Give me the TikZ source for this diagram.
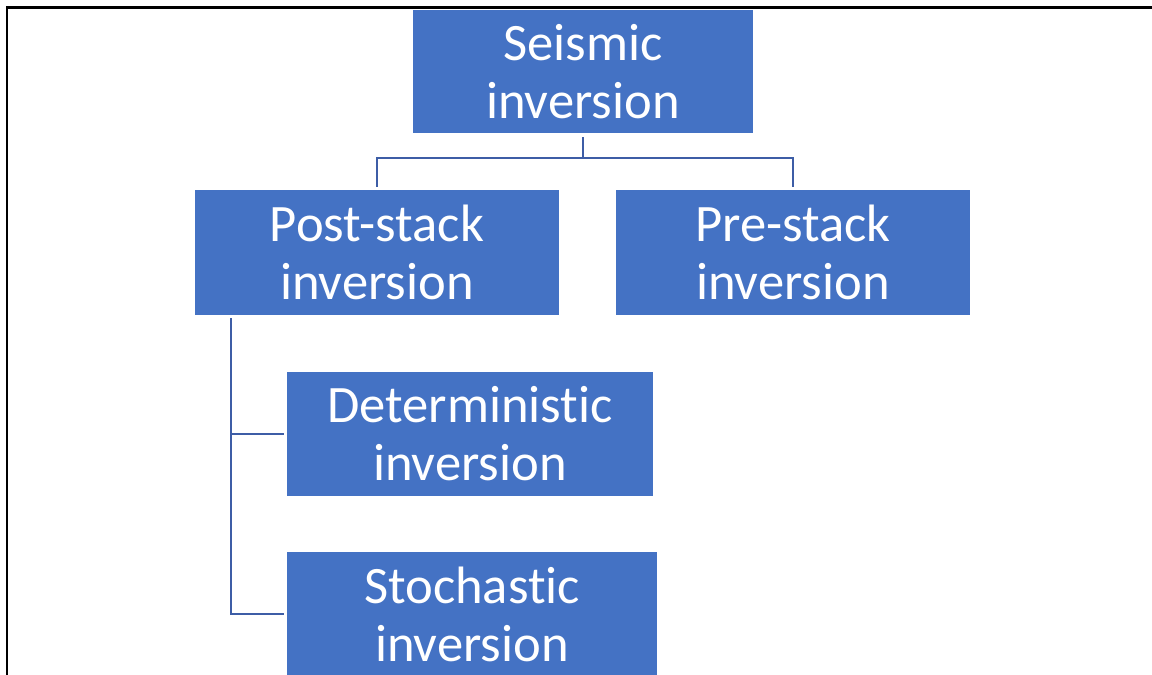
\documentclass[tikz,border=0pt]{standalone}
\usepackage{fontspec}
\setmainfont[RawFeature={-liga;-clig;-calt;-dlig}]{Carlito}
\definecolor{boxblue}{RGB}{68,114,196}
\definecolor{lineblue}{RGB}{61,93,166}
\begin{document}
\begin{tikzpicture}[x=0.5pt,y=-0.5pt,
  box/.style={fill=boxblue, text=white, inner sep=0pt, align=center,
    font=\fontsize{26.3}{29}\selectfont},
  conn/.style={draw=lineblue, line width=1.1pt}]
\clip (0,0) rectangle (1152,675);
\useasboundingbox (0,0) rectangle (1152,675);
\draw[line width=1.1pt] (7,675) -- (7,7.5) -- (1152,7.5);
\node[box, minimum width=170pt, minimum height=61.5pt] (seis) at (583,71.5) {Seismic\\inversion};
\node[box, minimum width=182pt, minimum height=62.5pt] (post) at (377,252.5) {Post-stack\\inversion};
\node[box, minimum width=177pt, minimum height=62.5pt] (pre) at (793,252.5) {Pre-stack\\inversion};
\node[box, minimum width=183pt, minimum height=62pt] (det) at (470,434) {Deterministic\\inversion};
\node[box, minimum width=185pt, minimum height=62pt] (sto) at (472,614) {Stochastic\\inversion};
\coordinate (j) at (583,158);
\draw[conn] ([yshift=-2pt]seis.south) -- (j);
\draw[conn] ([yshift=1.5pt]post.north) |- (j) -| ([yshift=1.5pt]pre.north);
\coordinate (t) at ([xshift=18pt,yshift=-1.5pt]post.south west);
\draw[conn] (t) |- ([xshift=-1.5pt]sto.west);
\draw[conn] (t) |- ([xshift=-1.5pt]det.west);
\end{tikzpicture}
\end{document}
